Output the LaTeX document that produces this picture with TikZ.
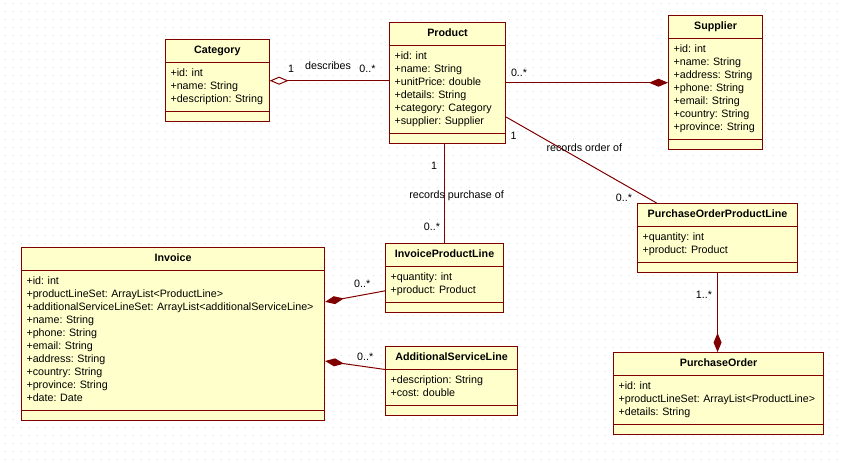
\documentclass[tikz,border=0pt]{standalone}
\usepackage{fontspec}
\setmainfont{Liberation Sans}
\usetikzlibrary{arrows.meta,shapes.multipart}

\definecolor{umlred}{RGB}{128,0,0}
\definecolor{umlfill}{RGB}{255,255,204}
\definecolor{griddot}{RGB}{222,222,222}
\newcommand{\umlfont}{\frenchspacing\fontsize{10.7}{13}\selectfont}
\newcommand{\umltitle}[1]{\hbox to\hsize{\hss\bfseries#1\strut\hss}}

\begin{document}
\begin{tikzpicture}[x=1pt,y=-1pt,
  umlclass/.style={rectangle split,rectangle split parts=3,draw=umlred,fill=umlfill,
    line width=1.1pt,anchor=north west,inner xsep=5pt,inner ysep=4.5pt,align=left,
    font=\umlfont,rectangle split empty part height=1pt},
  lbl/.style={inner sep=0pt,font=\umlfont,text depth=0pt},
  assoc/.style={draw=umlred,line width=1pt},
  comp/.style={arrows={Diamond[length=19pt,width=8pt]-}},
  aggr/.style={arrows={Diamond[length=19pt,width=8pt,open,fill=white]-}}]

  \useasboundingbox (0,0) rectangle (844,463);

  % dotted background
  \foreach \gy in {0,...,57}
    \draw[griddot,line width=1pt,dash pattern=on 1pt off 7pt] (4.5,3.5+8*\gy) -- (844,3.5+8*\gy);

  \node[umlclass,text width=93.5pt] (Cat) at (165,39)
    {\umltitle{Category}
     \nodepart{two}\strut+id: int\\+name: String\\+description: String\strut
     \nodepart{three}};
  \node[umlclass,text width=106pt] (Prod) at (389,22)
    {\umltitle{Product}
     \nodepart{two}\strut+id: int\\+name: String\\+unitPrice: double\\+details: String\\+category: Category\\+supplier: Supplier\strut
     \nodepart{three}};
  \node[umlclass,text width=84pt] (Sup) at (668,15)
    {\umltitle{Supplier}
     \nodepart{two}\strut+id: int\\+name: String\\+address: String\\+phone: String\\+email: String\\+country: String\\+province: String\strut
     \nodepart{three}};
  \node[umlclass,text width=293pt] (Inv) at (21,247)
    {\umltitle{Invoice}
     \nodepart{two}\strut+id: int\\+productLineSet: ArrayList<ProductLine>\\+additionalServiceLineSet: ArrayList<additionalServiceLine>\\+name: String\\+phone: String\\+email: String\\+address: String\\+country: String\\+province: String\\+date: Date\strut
     \nodepart{three}};
  \node[umlclass,text width=108pt] (IPL) at (385,243)
    {\umltitle{InvoiceProductLine}
     \nodepart{two}\strut+quantity: int\\+product: Product\strut
     \nodepart{three}};
  \node[umlclass,text width=122pt] (ASL) at (385,346)
    {\umltitle{AdditionalServiceLine}
     \nodepart{two}\strut+description: String\\+cost: double\strut
     \nodepart{three}};
  \node[umlclass,text width=150pt] (POPL) at (637,203)
    {\umltitle{PurchaseOrderProductLine}
     \nodepart{two}\strut+quantity: int\\+product: Product\strut
     \nodepart{three}};
  \node[umlclass,text width=200pt] (PO) at (613,352)
    {\umltitle{PurchaseOrder}
     \nodepart{two}\strut+id: int\\+productLineSet: ArrayList<ProductLine>\\+details: String\strut
     \nodepart{three}};

  % associations
  \path (Cat.east) edge[assoc,aggr]
      node[lbl,pos=.18,above=8pt] {1}
      node[lbl,pos=.49,above=11pt] {describes}
      node[lbl,pos=.82,above=8pt] {0..*} (Cat.east -| Prod.west);
  \path (Sup.west) edge[assoc,comp] node[lbl,pos=.92,above=6pt] {0..*} (Sup.west -| Prod.east);
  \path (IPL.north |- Prod.south) edge[assoc]
      node[lbl,pos=.22,left=7pt] {1}
      node[lbl,pos=.51,xshift=12pt] {records purchase of}
      node[lbl,pos=.84,left=4pt] {0..*} (IPL.north);
  \path (Prod.-30) edge[assoc]
      node[lbl,pos=.05,below=10pt] {1}
      node[lbl,pos=.52,above=10pt] {records order of}
      node[lbl,pos=.94,left=15pt] {0..*} (POPL.150);
  \path (Inv.12) edge[assoc,comp] node[lbl,pos=.62,above=7pt] {0..*} (IPL.192);
  \path (Inv.-10) edge[assoc,comp] node[lbl,pos=.67,above=6pt] {0..*} (ASL.170);
  \path (POPL.south |- PO.north) edge[assoc,comp] node[lbl,pos=.73,left=5pt] {1..*} (POPL.south);

\end{tikzpicture}
\end{document}
